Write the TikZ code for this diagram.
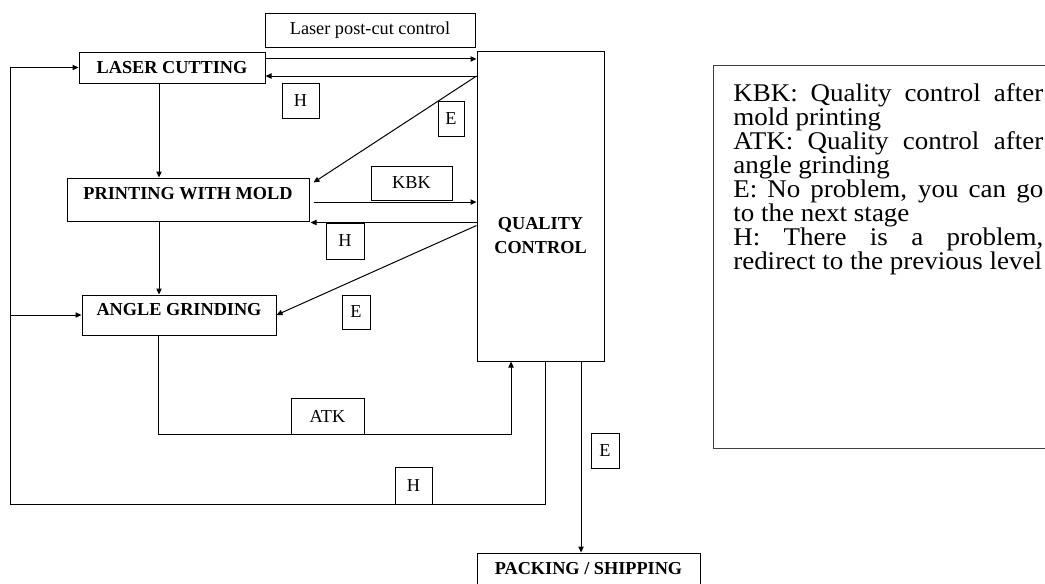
\documentclass[tikz,border=0pt]{standalone}
\usepackage{fontspec}
\setmainfont{Liberation Serif}
\newfontfamily\legendfamily[FakeStretch=1.06]{Liberation Serif}
\usepackage{tikz}
\usetikzlibrary{arrows.meta, positioning}
\setlength{\parindent}{0pt}
\newcommand{\legendfont}{\legendfamily\fontsize{19.1}{18}\selectfont\lineskiplimit=-30pt\relax}

\begin{document}
\begin{tikzpicture}[
    x=0.75pt,
    y=-0.75pt,
    font=\fontsize{13.7}{16}\selectfont,
    stage/.style={
        rectangle,
        draw=black,
        line width=0.75pt,
        inner sep=0pt,
        align=center,
        font=\fontsize{13.7}{18}\selectfont\bfseries
    },
    tagbox/.style={
        rectangle,
        draw=black,
        line width=0.75pt,
        inner sep=0pt,
        minimum height=26.25pt
    },
    arrow/.style={
        line width=0.75pt,
        -{Triangle[length=4.5pt,width=4pt]}
    },
    legendframe/.style={
        rectangle,
        draw=black!75,
        line width=1.1pt,
        inner sep=0pt
    },
    legendtext/.style={
        inner sep=0pt,
        text width=232.5pt,
        align=justify,
        font=\legendfont
    }
]
    \clip (0,0) rectangle (1045,583);

    % Stages
    \node [tagbox, minimum width=157.5pt, minimum height=25.5pt] (postcut) at (370,30) {Laser post-cut control};
    \node [stage, minimum width=139.5pt, minimum height=23.25pt] (laser) at (172,67.5) {LASER CUTTING};
    \node [stage, minimum width=181.5pt, minimum height=32.25pt, text height=9pt, text depth=9pt] (mold) at (188,199.5) {PRINTING WITH MOLD};
    \node [stage, minimum width=145.5pt, minimum height=30pt, text height=9pt, text depth=9pt] (grind) at (179,315) {ANGLE GRINDING};
    \node [stage, minimum width=167.25pt, minimum height=24pt] (pack) at (588.5,569) {PACKING / SHIPPING};

    % Quality control
    \node [stage, minimum width=95.25pt, minimum height=232.5pt] (qc) at (540.5,206) {};
    \node [font=\fontsize{13.7}{18}\selectfont\bfseries, align=center] (qctext) at (540.5,235.5) {QUALITY\\CONTROL};

    % Tags
    \node [tagbox, minimum width=27.75pt] (h1) at (300.5,100.5) {H};
    \node [tagbox, minimum width=19.5pt] (e1) at (451,118.5) {E};
    \node [tagbox, minimum width=60.75pt, minimum height=25.5pt] (kbk) at (411.5,183) {KBK};
    \node [tagbox, minimum width=28.5pt, minimum height=27pt] (h2) at (345,241) {H};
    \node [tagbox, minimum width=21pt, minimum height=25.5pt] (e2) at (356,312) {E};
    \node [tagbox, minimum width=54.75pt, minimum height=27pt] (atk) at (327.5,416) {ATK};
    \node [tagbox, minimum width=27.75pt, minimum height=27.75pt] (h3) at (413.5,485.5) {H};
    \node [tagbox, minimum width=21pt] (e3) at (605,450.5) {E};

    % Legend
    \node [legendframe, anchor=north west, minimum width=252.75pt, minimum height=287.25pt] (legend) at (713,65) {};
    \node [legendtext, anchor=north west] (legendtxt) at (733,83) {KBK: Quality control after\linebreak mold printing\par ATK: Quality control after\linebreak angle grinding\par E: No problem, you can go\linebreak to the next stage\par H: There is a problem,\linebreak redirect to the previous level};

    % Connections
    \coordinate (back) at (10,504);
    \draw [arrow] ([yshift=6.4pt]laser.east) -- ([yshift=6.4pt]laser.east -| qc.west);
    \draw [arrow] ([yshift=-6.4pt]laser.east -| qc.west) -- ([yshift=-6.4pt]laser.east);
    \draw [arrow] ([yshift=-6.4pt]laser.east -| qc.west) -- ([xshift=3pt,yshift=-3.75pt]mold.north east);
    \draw [arrow] ([xshift=-9.75pt]laser.south) -- ([xshift=-9.75pt]laser.south |- mold.north);

    \draw [arrow] ([xshift=3pt,yshift=-1.9pt]mold.east) -- ([yshift=-1.9pt]mold.east -| qc.west);
    \draw [arrow] ([yshift=-0.75pt]mold.south east -| qc.west) -- ([xshift=0.75pt,yshift=-0.75pt]mold.south east);
    \draw [arrow] ([yshift=-3pt]mold.south east -| qc.west) -- (grind.east);
    \draw [arrow] ([xshift=-21.75pt]mold.south) -- ([xshift=-21.75pt]mold.south |- grind.north);

    \draw [arrow] ([xshift=-15.75pt]grind.south) |- (atk.south) -| ([xshift=-22.1pt]qc.south);
    \draw [arrow] ([xshift=4.1pt]qc.south) |- (back) |- (laser.west);
    \draw [arrow] (back |- grind.west) -- (grind.west);
    \draw [arrow] ([xshift=-5.6pt]pack.north |- qc.south) -- ([xshift=-5.6pt]pack.north);

\end{tikzpicture}
\end{document}
